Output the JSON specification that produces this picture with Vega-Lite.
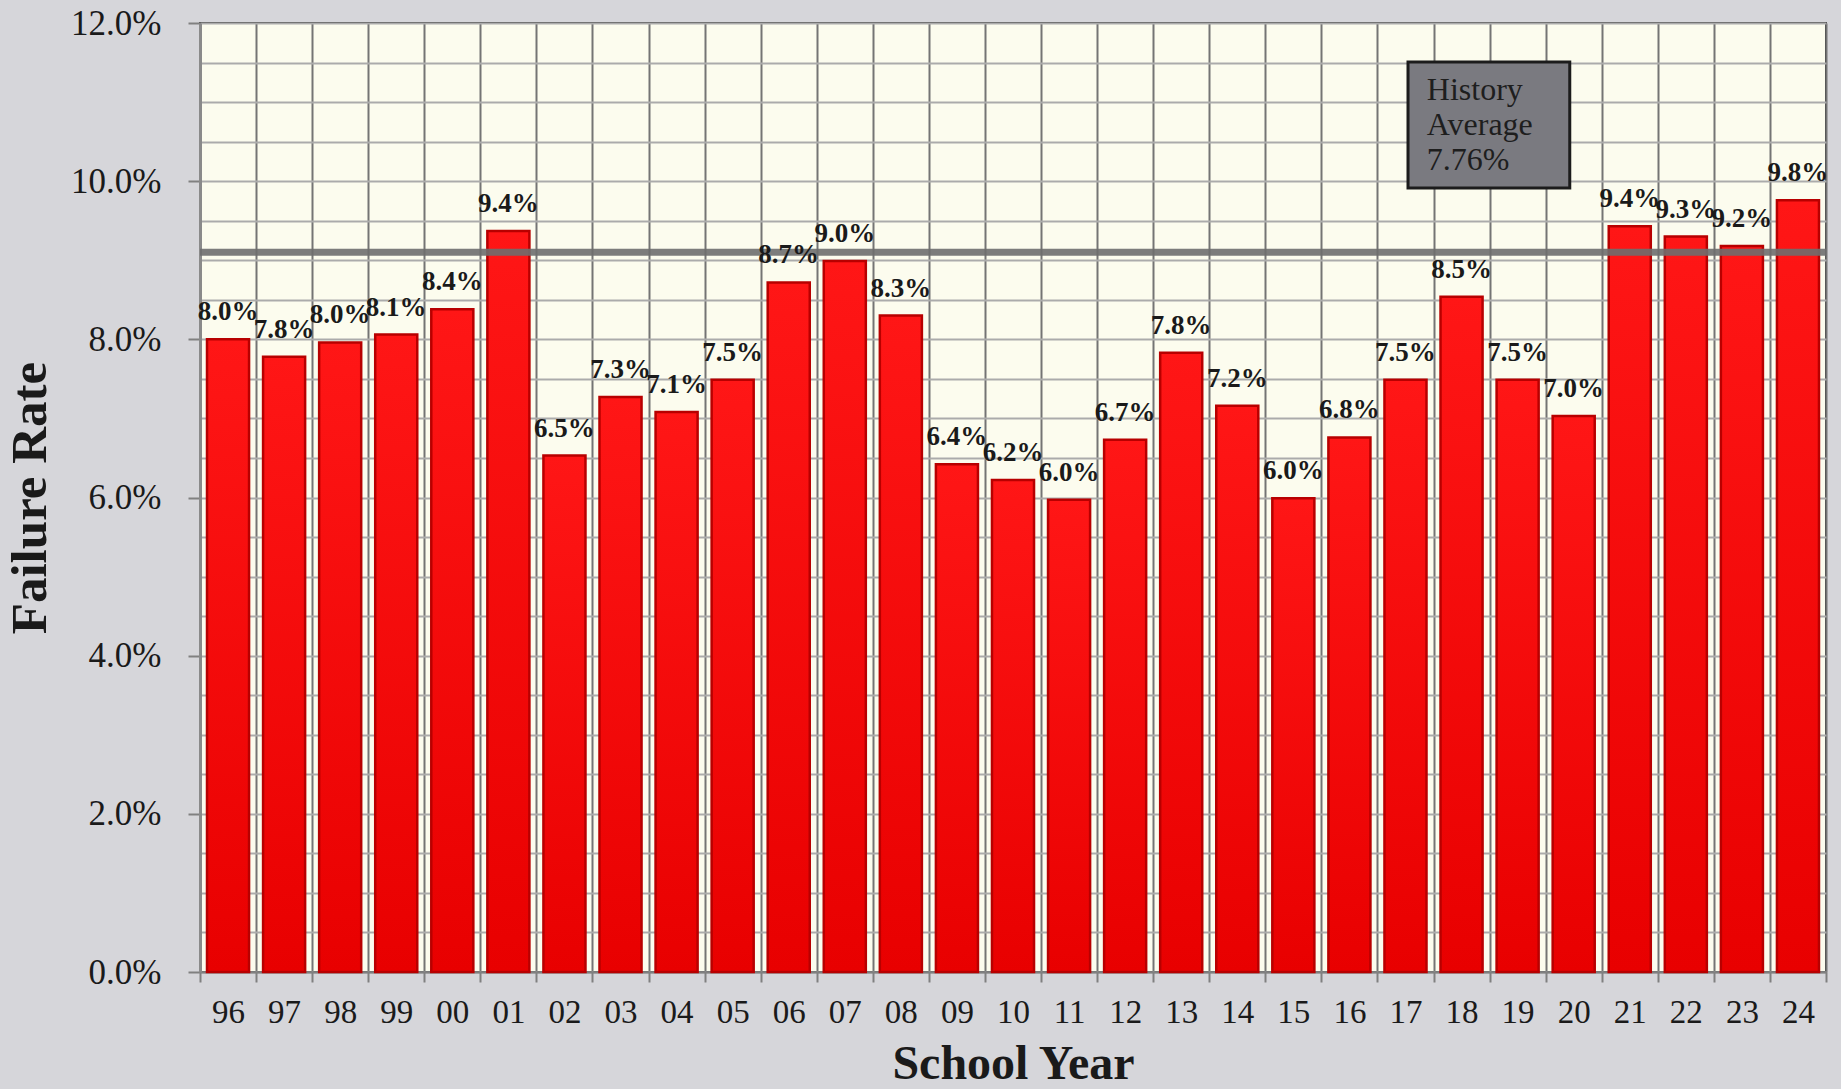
{
  "$schema": "https://vega.github.io/schema/vega-lite/v6.json",
  "width": 1626,
  "height": 949,
  "autosize": {"type": "none"},
  "padding": {"left": 200, "top": 23, "right": 15, "bottom": 117},
  "background": "#d6d6da",
  "config": {
    "view": {"fill": "#fcfcee", "stroke": "#3a3a3a", "strokeWidth": 2},
    "font": "Liberation Serif"
  },
  "data": {
    "values": [
      {"year": "96", "rate": 0.0800},
      {"year": "97", "rate": 0.0778},
      {"year": "98", "rate": 0.0796},
      {"year": "99", "rate": 0.0806},
      {"year": "00", "rate": 0.0838},
      {"year": "01", "rate": 0.0937},
      {"year": "02", "rate": 0.0653},
      {"year": "03", "rate": 0.0727},
      {"year": "04", "rate": 0.0708},
      {"year": "05", "rate": 0.0749},
      {"year": "06", "rate": 0.0872},
      {"year": "07", "rate": 0.0899},
      {"year": "08", "rate": 0.0830},
      {"year": "09", "rate": 0.0642},
      {"year": "10", "rate": 0.0622},
      {"year": "11", "rate": 0.0597},
      {"year": "12", "rate": 0.0673},
      {"year": "13", "rate": 0.0783},
      {"year": "14", "rate": 0.0716},
      {"year": "15", "rate": 0.0599},
      {"year": "16", "rate": 0.0676},
      {"year": "17", "rate": 0.0749},
      {"year": "18", "rate": 0.0854},
      {"year": "19", "rate": 0.0749},
      {"year": "20", "rate": 0.0703},
      {"year": "21", "rate": 0.0943},
      {"year": "22", "rate": 0.0930},
      {"year": "23", "rate": 0.0918},
      {"year": "24", "rate": 0.0976}
    ]
  },
  "encoding": {
    "x": {
      "field": "year",
      "type": "nominal",
      "sort": null,
      "scale": {
        "domain": ["96","97","98","99","00","01","02","03","04","05","06","07","08","09","10","11","12","13","14","15","16","17","18","19","20","21","22","23","24"],
        "paddingInner": 0,
        "paddingOuter": 0
      },
      "axis": {
        "tickBand": "extent",
        "grid": true,
        "gridColor": "#747474",
        "gridWidth": 2,
        "tickColor": "#808080",
        "tickWidth": 2,
        "tickSize": 10,
        "labelAngle": 0,
        "labelFontSize": 33,
        "labelPadding": 14,
        "labelColor": "#1a1a1a",
        "domainColor": "#808080",
        "domainWidth": 2,
        "title": "School Year",
        "titleFontSize": 48,
        "titleFontWeight": "bold",
        "titlePadding": 11,
        "titleColor": "#1a1a1a"
      }
    },
    "y": {
      "field": "rate",
      "type": "quantitative",
      "scale": {"domain": [0, 0.12], "nice": false},
      "axis": {
        "values": [0, 0.005, 0.01, 0.015, 0.02, 0.025, 0.03, 0.035, 0.04, 0.045, 0.05, 0.055, 0.06, 0.065, 0.07, 0.075, 0.08, 0.085, 0.09, 0.095, 0.1, 0.105, 0.11, 0.115, 0.12],
        "labelExpr": "round(datum.value*1000) % 20 == 0 ? format(datum.value, '.1%') : ''",
        "labelOverlap": false,
        "grid": true,
        "gridColor": "#ababab",
        "gridWidth": 2,
        "tickOpacity": {"condition": {"test": "round(datum.value*1000) % 20 == 0", "value": 1}, "value": 0},
        "tickSize": 12,
        "tickColor": "#808080",
        "tickWidth": 2,
        "labelFontSize": 35,
        "labelColor": "#1a1a1a",
        "labelPadding": 27,
        "domainColor": "#8a8a8a",
        "domainWidth": 3,
        "title": "Failure Rate",
        "titleFontSize": 51,
        "titleFontWeight": "bold",
        "titlePadding": 14,
        "titleColor": "#1a1a1a"
      }
    }
  },
  "layer": [
    {
      "mark": {
        "type": "bar",
        "width": {"band": 0.75},
        "fill": {
          "gradient": "linear",
          "x1": 0, "y1": 0, "x2": 0, "y2": 1,
          "stops": [
            {"offset": 0, "color": "#ff1616"},
            {"offset": 1, "color": "#e80000"}
          ]
        },
        "stroke": "#b80000",
        "strokeWidth": 2.5
      }
    },
    {
      "transform": [{"filter": "datum.year == '96'"}],
      "mark": {"type": "rule", "color": "#6e6e6e", "strokeWidth": 7, "opacity": 0.9},
      "encoding": {"x": null, "y": {"datum": 0.091}}
    },
    {
      "mark": {
        "type": "text",
        "dy": -19,
        "baseline": "alphabetic",
        "fontWeight": "bold",
        "fontSize": 27,
        "color": "#1a1a1a"
      },
      "encoding": {
        "text": {"field": "rate", "type": "quantitative", "format": ".1%"}
      }
    },
    {
      "transform": [{"filter": "datum.year == '96'"}],
      "mark": {"type": "rect", "fill": "#7a7a80", "stroke": "#1c1c1c", "strokeWidth": 3},
      "encoding": {
        "x": {"datum": "17", "bandPosition": 0.545},
        "x2": {"datum": "20", "bandPosition": 0.43},
        "y": {"datum": 0.11507},
        "y2": {"datum": 0.09914}
      }
    },
    {
      "transform": [{"filter": "datum.year == '96'"}],
      "mark": {
        "type": "text",
        "align": "left",
        "baseline": "alphabetic",
        "fontSize": 32,
        "fontWeight": "normal",
        "lineHeight": 35,
        "color": "#1e1e1e",
        "lineBreak": "\n"
      },
      "encoding": {
        "x": {"datum": "17", "bandPosition": 0.88},
        "y": {"datum": 0.11027},
        "text": {"value": "History\nAverage\n7.76%"}
      }
    }
  ]
}
